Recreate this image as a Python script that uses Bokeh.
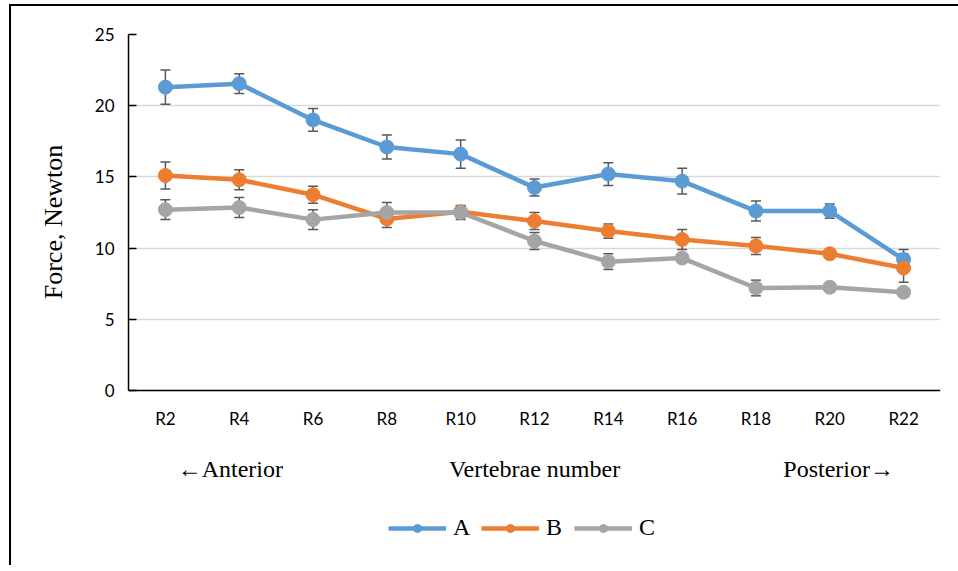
from bokeh.plotting import figure
from bokeh.models import (ColumnDataSource, Whisker, TeeHead, Legend, LegendItem,
                          Range1d, FactorRange, FixedTicker, CategoricalAxis)
from bokeh.embed import file_html
from bokeh.resources import INLINE

# Rib positions along the spine
ribs = ["R2", "R4", "R6", "R8", "R10", "R12", "R14", "R16", "R18", "R20", "R22"]

# Mean force (N) and its error for each group
force_a = [21.3, 21.55, 19.0, 17.1, 16.6, 14.25, 15.2, 14.7, 12.6, 12.6, 9.2]
err_a = [1.2, 0.7, 0.8, 0.85, 1.0, 0.6, 0.8, 0.9, 0.7, 0.5, 0.7]
force_b = [15.1, 14.8, 13.75, 12.05, 12.55, 11.9, 11.2, 10.6, 10.15, 9.6, 8.6]
err_b = [0.95, 0.7, 0.6, 0.6, 0.4, 0.6, 0.5, 0.7, 0.6, 0.3, 1.0]
force_c = [12.7, 12.85, 12.0, 12.5, 12.5, 10.5, 9.05, 9.3, 7.2, 7.25, 6.9]
err_c = [0.7, 0.7, 0.7, 0.7, 0.5, 0.6, 0.55, 0.3, 0.55, 0.2, 0.2]

groups = ["A", "B", "C"]
colors = ["#5B9BD5", "#ED7D31", "#A5A5A5"]
y_ticks = [0, 5, 10, 15, 20, 25]
captions = ["\u2190Anterior", "Vertebrae number", "Posterior\u2192"]
y_title = "Force, Newton"

SERIF = "Liberation Serif"
SANS = "Lato"

# the frame reaches below y=0 so the captions and the legend sit inside it
PX_PER_UNIT = 356 / 25
y_low = -175 / PX_PER_UNIT

p = figure(frame_width=812, frame_height=531,
           x_range=FactorRange(*ribs, range_padding=0),
           y_range=Range1d(y_low, max(y_ticks)), output_backend="svg",
           toolbar_location=None,
           min_border_left=117, min_border_right=18, min_border_top=28,
           min_border_bottom=0)
p.margin = (4, 0, 0, 9)
p.styles = {"border-top": "2px solid #000000", "border-left": "2px solid #000000"}
p.outline_line_color = None
p.background_fill_color = "white"
p.border_fill_color = "white"

# x axis drawn along y = 0
p.xaxis.fixed_location = 0
p.xaxis.axis_line_color = "#000000"
p.xaxis.axis_line_width = 1.5
p.xaxis.major_tick_line_color = None
p.xaxis.minor_tick_line_color = None
p.xaxis.major_label_text_font = SANS
p.xaxis.major_label_text_font_size = "17px"
p.xaxis.major_label_text_color = "#000000"
p.xaxis.major_label_standoff = 11

p.yaxis.ticker = FixedTicker(ticks=y_ticks)
p.yaxis.bounds = (min(y_ticks), max(y_ticks))
p.yaxis.axis_line_color = "#000000"
p.yaxis.axis_line_width = 1.5
p.yaxis.major_tick_in = 8
p.yaxis.major_tick_out = 0
p.yaxis.major_tick_line_color = "#000000"
p.yaxis.major_tick_line_width = 1.5
p.yaxis.minor_tick_line_color = None
p.yaxis.major_label_text_font = SANS
p.yaxis.major_label_text_font_size = "17px"
p.yaxis.major_label_text_color = "#000000"
p.yaxis.major_label_standoff = 14
# leading no-break spaces lift the title to the middle of the 0-25 span
p.yaxis.axis_label = "\u00a0" * 24 + y_title
p.yaxis.axis_label_text_font = SERIF
p.yaxis.axis_label_text_font_size = "26px"
p.yaxis.axis_label_text_font_style = "normal"
p.yaxis.axis_label_text_color = "#000000"
p.yaxis.axis_label_standoff = 24

p.xgrid.grid_line_color = None
p.ygrid.grid_line_color = "#D9D9D9"
p.ygrid.grid_line_width = 1.5

# direction captions under the rib labels
p.extra_x_ranges = {"cap": FactorRange(*captions, range_padding=-0.11)}
cap_axis = CategoricalAxis(x_range_name="cap", fixed_location=0,
                           axis_line_color=None, major_tick_line_color=None,
                           major_tick_out=0, major_tick_in=0,
                           minor_tick_line_color=None, major_label_standoff=65,
                           major_label_text_font=SERIF,
                           major_label_text_font_size="24px",
                           major_label_text_color="#000000")
p.add_layout(cap_axis, "below")

series = [(force_a, err_a), (force_b, err_b), (force_c, err_c)]
items = []
for name, color, (vals, errs) in zip(groups, colors, series):
    src = ColumnDataSource(dict(
        x=ribs, y=vals,
        upper=[v + e for v, e in zip(vals, errs)],
        lower=[v - e for v, e in zip(vals, errs)],
    ))
    w = Whisker(base="x", upper="upper", lower="lower", source=src,
                dimension="height", line_color="#595959", line_width=1.5,
                upper_head=TeeHead(size=10, line_color="#595959", line_width=1.5),
                lower_head=TeeHead(size=10, line_color="#595959", line_width=1.5))
    p.add_layout(w)
    ln = p.line("x", "y", source=src, line_color=color, line_width=4.5,
                line_join="round")
    mk = p.scatter("x", "y", source=src, size=14, marker="circle",
                   fill_color=color, line_color=color)
    items.append(LegendItem(label=name, renderers=[ln, mk]))

legend = Legend(items=items, orientation="horizontal", location=(260, 24),
                glyph_width=58, glyph_height=20, label_standoff=7, spacing=8,
                label_text_font=SERIF, label_text_font_size="24px",
                label_text_color="#000000", border_line_color=None,
                background_fill_alpha=0, padding=0, margin=0)
p.add_layout(legend, "center")

open("out.html", "w").write(file_html(p, INLINE))
